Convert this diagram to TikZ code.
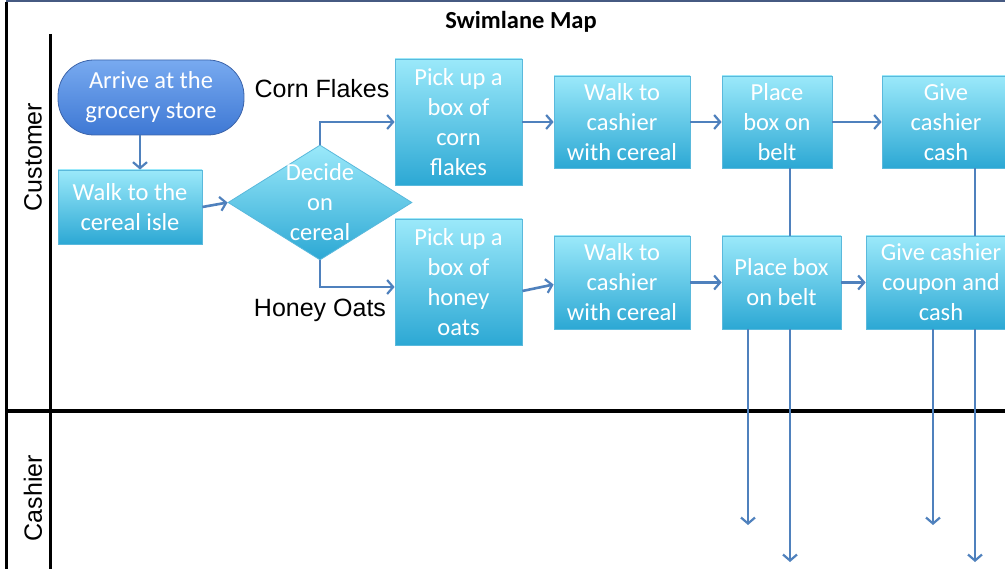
\documentclass[tikz,border=0pt]{standalone}
\usepackage{fontspec}
\setmainfont{Carlito}
\newfontfamily\arialf{Liberation Sans}
\usetikzlibrary{shapes.geometric,arrows.meta}
\definecolor{boxtop}{RGB}{155,233,250}
\definecolor{boxbot}{RGB}{44,168,212}
\definecolor{boxedge}{RGB}{90,185,220}
\definecolor{arrtop}{RGB}{120,170,240}
\definecolor{arrbot}{RGB}{62,120,212}
\definecolor{arredge}{RGB}{60,100,170}
\definecolor{arrowc}{RGB}{79,129,189}
\definecolor{topline}{RGB}{70,90,130}
\tikzset{
  box/.style={draw=boxedge, line width=0.8pt, top color=boxtop, bottom color=boxbot,
    text=white, font=\fontsize{24.5}{30}\selectfont, align=center, inner sep=0pt},
  boxtext/.style={text=white, font=\fontsize{24.5}{30}\selectfont, align=center, inner sep=0pt},
  flow/.style={draw=arrowc, line width=2.6pt, -{Straight Barb[length=6pt,width=14pt,line width=2.2pt]}},
  link/.style={draw=arrowc, line width=2.6pt},
  lanelbl/.style={font=\arialf\fontsize{25}{30}\selectfont, rotate=90, inner sep=0pt},
  branchlbl/.style={font=\arialf\fontsize{25}{30}\selectfont, anchor=base, inner sep=0pt},
  frame/.style={line width=3pt, draw=black}
}
\begin{document}
\begin{tikzpicture}[x=1pt,y=-1pt]
\clip (0,0) rectangle (1005,569);
\fill[white] (0,0) rectangle (1005,569);
% frame
\draw[line width=2.5pt, draw=topline] (6,1) -- (1005,1);
\draw[frame] (6,2) -- (6,569);
\draw[frame] (50,34) -- (50,569);
\draw[line width=3.5pt] (6,411) -- (1005,411);
% title and lane labels
\node[font=\bfseries\fontsize{24.5}{28}\selectfont] (title) at (521,22) {Swimlane Map};
\node[lanelbl] (lcust) at (33,157) {Customer};
\node[lanelbl] (lcash) at (33,498) {Cashier};
% nodes
\node[box, rounded corners=36pt, top color=arrtop, bottom color=arrbot, draw=arredge,
  minimum width=186pt, minimum height=75pt] (arrive) at (151,97.5) {Arrive at the\\grocery store};
\node[box, minimum width=144pt, minimum height=74pt] (walk0) at (130,207) {Walk to the\\cereal isle};
\node[box, diamond, minimum width=184pt, minimum height=115pt] (dia) at (320,202.5) {};
\node[boxtext] (dialbl) at (dia.center) {Decide\\on\\cereal};
\node[box, minimum width=127pt, minimum height=126pt] (pickc) at (458.5,122) {Pick up a\\box of\\corn\\flakes};
\node[box, minimum width=127pt, minimum height=126pt] (pickh) at (458.5,282) {Pick up a\\box of\\honey\\oats};
\node[box, minimum width=136pt, minimum height=92pt] (walk1) at (622,122) {Walk to\\cashier\\with cereal};
\node[box, minimum width=110pt, minimum height=92pt] (place1) at (777,122) {Place\\box on\\belt};
\node[box, minimum width=128pt, minimum height=92pt] (give1) at (946,122) {Give\\cashier\\cash};
\node[box, minimum width=136pt, minimum height=93pt] (walk2) at (622,282.5) {Walk to\\cashier\\with cereal};
\node[box, minimum width=119pt, minimum height=93pt] (place2) at (781.5,282.5) {Place box\\on belt};
\node[box, minimum width=150pt, minimum height=93pt] (give2) at (941,282.5) {Give cashier\\coupon and\\cash};
\node[branchlbl] (cf) at (322,98) {Corn Flakes};
\node[branchlbl] (ho) at (320,317) {Honey Oats};
% coordinates for vertical lines
\coordinate (p1x) at (790,0);
\coordinate (p2x) at (748,0);
\coordinate (g1x) at (975,0);
\coordinate (g2x) at (933,0);
\coordinate (e1) at (790,562);
\coordinate (e2) at (748,525);
\coordinate (e3) at (975,562);
\coordinate (e4) at (933,525);
% connectors
\draw[flow] ([xshift=-11pt]arrive.south) -- ([xshift=10pt]walk0.north);
\draw[flow] (walk0.east) -- (dia.west);
\draw[flow] (dia.north) |- (pickc.west);
\draw[flow] (dia.south) |- ([yshift=-5pt]pickh.west);
\draw[flow] (pickc.east) -- (walk1.west);
\draw[flow] (walk1.east) -- (place1.west);
\draw[flow] (place1.east) -- (give1.west);
\draw[flow] ([yshift=-9pt]pickh.east) -- ([yshift=-2pt]walk2.west);
\draw[flow] (walk2.east) -- (place2.west);
\draw[flow] (place2.east) -- (give2.west);
\draw[link] (place1.south -| p1x) -- (place2.north -| p1x);
\draw[flow] (place2.south -| p1x) -- (e1);
\draw[flow] (place2.south -| p2x) -- (e2);
\draw[link] (give1.south -| g1x) -- (give2.north -| g1x);
\draw[flow] (give2.south -| g1x) -- (e3);
\draw[flow] (give2.south -| g2x) -- (e4);
\end{tikzpicture}
\end{document}
